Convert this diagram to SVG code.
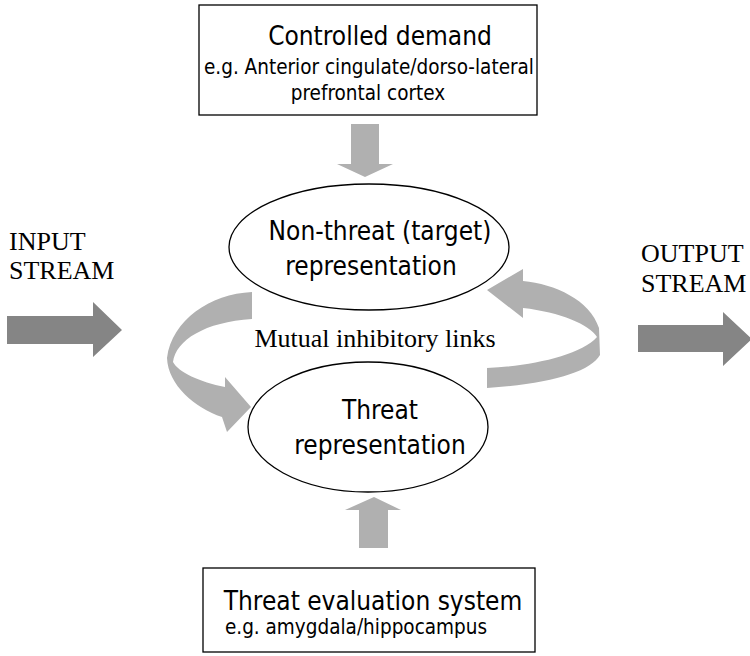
<svg xmlns="http://www.w3.org/2000/svg" width="750" height="656" viewBox="0 0 750 656">
<style>
.box{fill:#fff;stroke:#000;stroke-width:1.3}
.ell{fill:#fff;stroke:#000;stroke-width:1.3}
.sans{font-family:"DejaVu Sans Condensed","DejaVu Sans",sans-serif;font-stretch:condensed;fill:#000;text-anchor:middle}
.main{font-size:26px}
.sub{font-size:20.5px}
.serif{font-family:"Liberation Serif","Times New Roman",serif;font-size:26px;fill:#000}
.light{fill:#b0b0b0}
.dark{fill:#858585}
</style>
<rect width="750" height="656" fill="#fff"/>
<g id="connectors">
  <path id="input-arrow" class="dark" d="M7,316 L93,316 L93,302 L122,330 L93,357 L93,344 L7,344 Z"/>
  <path id="output-arrow" class="dark" d="M638,325 L723,325 L723,312 L752,339 L723,366 L723,352 L638,352 Z"/>
  <path id="down-arrow" class="light" d="M351,124 L379,124 L379,164 L393,164 L365,177 L337,164 L351,164 Z"/>
  <path id="up-arrow" class="light" d="M359,548 L388,548 L388,510 L401,510 L374,497 L345,510 L359,510 Z"/>
  <path id="left-curved-arrow" class="light" d="M252,292 C210,294 172,320 167,358 C168,385 195,408 222,417 L227,432 L251,407 L225,377 L225,387 C200,382 178,372 173,362 C176,340 205,322 252,319 Z"/>
  <path id="right-curved-arrow" class="light" d="M487,290 L523,269 L523,281 C555,284 590,300 599,328 L600,355 C590,372 550,384 487,388 L487,368 C530,366 580,356 597,337 C590,325 560,312 523,308 L523,318 Z"/>
</g>
<g id="controlled-demand">
  <rect class="box" x="199" y="5" width="338" height="110"/>
  <text class="sans main" x="380" y="45">Controlled demand</text>
  <text class="sans sub" x="369" y="74">e.g. Anterior  cingulate/dorso-lateral</text>
  <text class="sans sub" x="368" y="100">prefrontal cortex</text>
</g>
<g id="non-threat">
  <ellipse class="ell" cx="369" cy="247" rx="140" ry="63"/>
  <text class="sans main" x="380" y="240">Non-threat (target)</text>
  <text class="sans main" x="371" y="275">representation</text>
</g>
<g id="threat">
  <ellipse class="ell" cx="368" cy="427" rx="120" ry="65"/>
  <text class="sans main" x="380" y="419">Threat</text>
  <text class="sans main" x="380" y="454">representation</text>
</g>
<g id="threat-evaluation">
  <rect class="box" x="203" y="568" width="332" height="84"/>
  <text class="sans main" x="373" y="610">Threat evaluation system</text>
  <text class="sans sub" x="356" y="634">e.g. amygdala/hippocampus</text>
</g>
<g id="labels">
  <text class="serif" x="9" y="250">INPUT</text>
  <text class="serif" x="9" y="279">STREAM</text>
  <text class="serif" x="641" y="262">OUTPUT</text>
  <text class="serif" x="641" y="292">STREAM</text>
  <text class="serif" x="375" y="347" text-anchor="middle">Mutual inhibitory links</text>
</g>
</svg>
